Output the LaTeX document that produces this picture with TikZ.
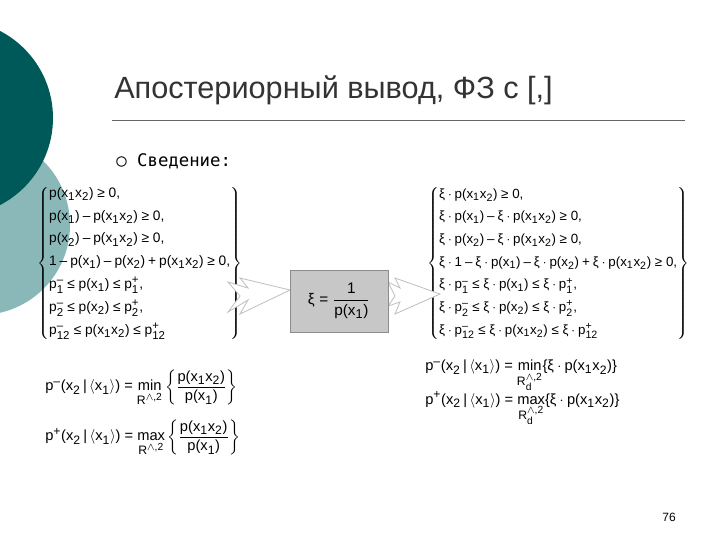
\documentclass[tikz,border=0pt]{standalone}
\usepackage{amsmath}
\usepackage[no-math]{fontspec}
\setmainfont{Liberation Sans}
\newfontfamily\monof{DejaVu Sans Mono}
\usepackage[italic=false]{mathastext}
\newcommand\xx{\text{ξ}}
\newcommand\gee{\mathrel{\text{≥}}}
\newcommand\lee{\mathrel{\text{≤}}}
\begin{document}
\begin{tikzpicture}[x=0.75pt,y=-0.75pt,
  frm/.style={anchor=west,inner sep=0pt,font=\fontsize{11}{13}\selectfont},
  chev/.style={draw=black!25,fill=white,line width=0.6pt}]
\useasboundingbox (0,0) rectangle (720,540);
\fill[white] (0,0) rectangle (720,540);
\fill[teal!45!white!80!gray] (-20,225) circle (90);
\fill[teal!70!black] (-45,118) circle (98);
\node[anchor=west,inner sep=0pt,font=\fontsize{23}{26}\selectfont,text=black!80] (title) at (114,90) {Апостериорный вывод, ФЗ с [,]};
\draw[black!60,line width=0.6pt] (112,120) -- (685,120);
\node[anchor=west,inner sep=0pt,font=\monof\fontsize{13}{15}\selectfont] (bul) at (116,161) {○\ Сведение:};
\node[frm,font=\fontsize{10.3}{12}\selectfont] (L) at (37,263) {$\left\{\begin{array}{@{}l@{}}
p(x_1x_2)\gee 0,\\[5pt]
p(x_1)-p(x_1x_2)\gee 0,\\[5pt]
p(x_2)-p(x_1x_2)\gee 0,\\[5pt]
1-p(x_1)-p(x_2)+p(x_1x_2)\gee 0,\\[5pt]
p_1^-\lee p(x_1)\lee p_1^+,\\[5pt]
p_2^-\lee p(x_2)\lee p_2^+,\\[5pt]
p_{12}^-\lee p(x_1x_2)\lee p_{12}^+
\end{array}\right\}$};
\node[frm,font=\fontsize{10}{12}\selectfont] (R) at (427,263) {$\left\{\begin{array}{@{}l@{}}
\xx\cdot p(x_1x_2)\gee 0,\\[5pt]
\xx\cdot p(x_1)-\xx\cdot p(x_1x_2)\gee 0,\\[5pt]
\xx\cdot p(x_2)-\xx\cdot p(x_1x_2)\gee 0,\\[5pt]
\xx\cdot 1-\xx\cdot p(x_1)-\xx\cdot p(x_2)+\xx\cdot p(x_1x_2)\gee 0,\\[5pt]
\xx\cdot p_1^-\lee \xx\cdot p(x_1)\lee \xx\cdot p_1^+,\\[5pt]
\xx\cdot p_2^-\lee \xx\cdot p(x_2)\lee \xx\cdot p_2^+,\\[5pt]
\xx\cdot p_{12}^-\lee \xx\cdot p(x_1x_2)\lee \xx\cdot p_{12}^+
\end{array}\right\}$};
% arrows
\draw[chev] (228,282) -- (248,288) -- (240,278) -- (290,290) -- (240,314) -- (248,300) -- (228,312) -- (240,296) -- cycle;
\draw[chev] (388,282) -- (400,288) -- (395,278) -- (440,294) -- (395,314) -- (400,302) -- (388,306) -- (395,296) -- cycle;
\node[draw=black!45,fill=black!22,minimum width=73.5pt,minimum height=46.5pt,inner sep=0pt] (box) at (339,301) {};
\node[inner sep=0pt,font=\fontsize{11.5}{13}\selectfont] (xi) at (box.center) {$\xx=\dfrac{1}{p(x_1)}$};
\node[frm,font=\fontsize{11}{13}\selectfont] (pm) at (45,388) {$p^-(x_2\,|\,\langle x_1\rangle)=\min\limits_{R^{\wedge,2}}\left\{\dfrac{p(x_1x_2)}{p(x_1)}\right\}$};
\node[frm,font=\fontsize{11}{13}\selectfont] (pp) at (45,438) {$p^+(x_2\,|\,\langle x_1\rangle)=\max\limits_{R^{\wedge,2}}\left\{\dfrac{p(x_1x_2)}{p(x_1)}\right\}$};
\node[frm] (qm) at (425,376) {$p^-(x_2\,|\,\langle x_1\rangle)=\min\limits_{R_d^{\wedge,2}}\{\xx\cdot p(x_1x_2)\}$};
\node[frm] (qp) at (425,409) {$p^+(x_2\,|\,\langle x_1\rangle)=\max\limits_{R_d^{\wedge,2}}\{\xx\cdot p(x_1x_2)\}$};
\node[inner sep=0pt,font=\fontsize{9}{11}\selectfont] (num) at (669,517) {76};
\end{tikzpicture}
\end{document}
